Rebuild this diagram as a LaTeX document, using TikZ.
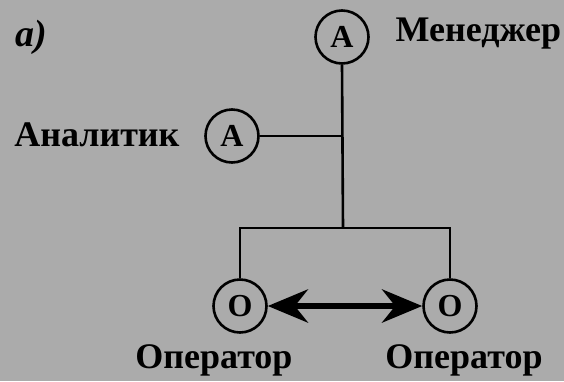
\documentclass[tikz,border=0pt]{standalone}
\usepackage{fontspec}
\setmainfont{Liberation Serif}
\usepackage{tikz}
\usetikzlibrary{arrows.meta,positioning,calc}

\definecolor{paper}{gray}{0.67}
\tikzset{
  agent/.style={circle, draw, line width=2.6pt, minimum size=53pt, inner sep=0pt,
    font=\fontsize{32}{36}\selectfont\bfseries},
  role/.style={font=\fontsize{36}{42}\selectfont\bfseries},
  link/.style={line width=2.6pt}
}

\begin{document}
\begin{tikzpicture}[x=1pt,y=-1pt,>=Stealth]
  \fill[paper] (0,0) rectangle (564,381);
  \useasboundingbox (0,0) rectangle (564,381);
  % people
  \node[agent] (mgr) at (342,37) {А};
  \node[agent] (ana) at (232,136) {А};
  \node[agent] (opl) at (240,306) {О};
  \node[agent] (opr) at (450,306) {О};
  % labels
  \node[role, anchor=base west, font=\fontsize{38}{42}\selectfont\bfseries\itshape] (tag) at (12,46) {а)};
  \node[role, anchor=base west] (mgrlbl) at (392,41) {Менеджер};
  \node[role, anchor=base east] (analbl) at (183,146) {Аналитик};
  \node[role, anchor=base] (opllbl) at (214,368) {Оператор};
  \node[role, anchor=base] (oprlbl) at (464,368) {Оператор};
  % lines
  \coordinate (hub) at (343,228);
  \draw[link] (mgr.south) -- (hub);
  \draw[link] (ana.east) -- (ana.east -| hub);
  \draw[link] (opl.north) |- (hub) -| (opr.north);
  \draw[line width=6.5pt, {Stealth[length=40pt,width=33pt]}-{Stealth[length=40pt,width=33pt]}]
    (opl) -- (opr);
\end{tikzpicture}
\end{document}
